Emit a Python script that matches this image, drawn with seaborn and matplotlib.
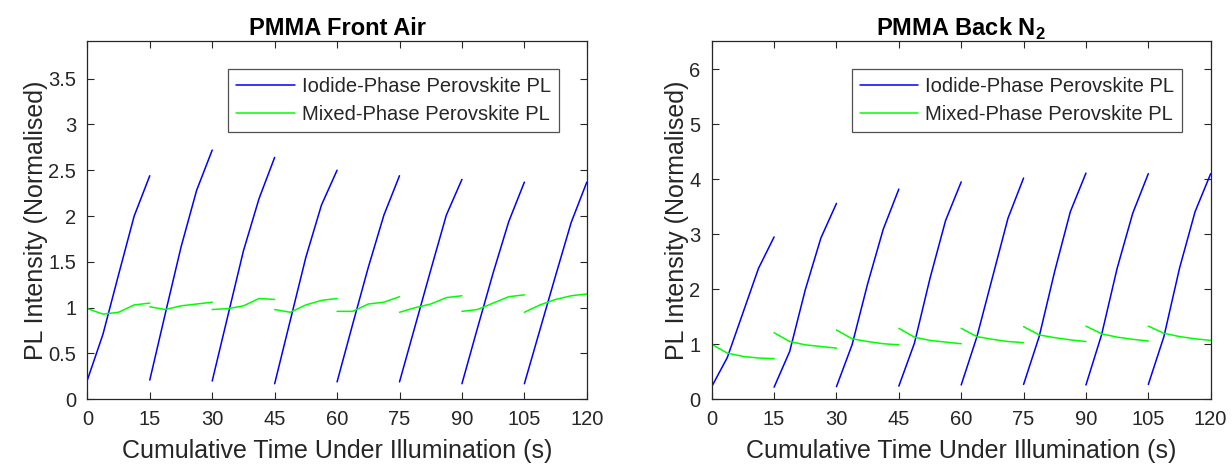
import matplotlib
matplotlib.use("Agg")
import matplotlib.pyplot as plt
import seaborn as sns
import pandas as pd
import numpy as np

# ---------------- data ----------------
segment_starts = [0, 15, 30, 45, 60, 75, 90, 105]
time_offsets = [0, 3.75, 7.5, 11.25, 15]

front_iodide = [
    [0.21, 0.71, 1.36, 2.00, 2.44],
    [0.21, 0.94, 1.66, 2.28, 2.72],
    [0.20, 0.91, 1.62, 2.19, 2.64],
    [0.17, 0.86, 1.55, 2.12, 2.50],
    [0.19, 0.82, 1.44, 2.01, 2.44],
    [0.19, 0.80, 1.41, 2.01, 2.40],
    [0.17, 0.78, 1.38, 1.94, 2.37],
    [0.17, 0.76, 1.35, 1.93, 2.37],
]
front_mixed = [
    [0.99, 0.93, 0.95, 1.03, 1.05],
    [1.01, 0.98, 1.02, 1.04, 1.06],
    [0.98, 0.99, 1.02, 1.10, 1.09],
    [0.98, 0.95, 1.03, 1.08, 1.10],
    [0.96, 0.96, 1.04, 1.06, 1.12],
    [0.95, 1.00, 1.04, 1.11, 1.13],
    [0.96, 0.98, 1.05, 1.12, 1.14],
    [0.95, 1.03, 1.09, 1.13, 1.15],
]
back_iodide = [
    [0.23, 0.76, 1.57, 2.38, 2.95],
    [0.22, 0.87, 1.99, 2.93, 3.56],
    [0.23, 0.99, 2.10, 3.09, 3.82],
    [0.24, 1.02, 2.20, 3.25, 3.95],
    [0.26, 1.13, 2.21, 3.29, 4.02],
    [0.27, 1.14, 2.33, 3.41, 4.11],
    [0.26, 1.17, 2.38, 3.38, 4.10],
    [0.27, 1.14, 2.38, 3.41, 4.10],
]
back_mixed = [
    [1.00, 0.84, 0.78, 0.75, 0.74],
    [1.21, 1.05, 0.99, 0.96, 0.93],
    [1.26, 1.10, 1.05, 1.01, 0.99],
    [1.29, 1.13, 1.07, 1.04, 1.01],
    [1.29, 1.14, 1.09, 1.05, 1.03],
    [1.32, 1.17, 1.12, 1.08, 1.05],
    [1.33, 1.19, 1.13, 1.09, 1.06],
    [1.33, 1.20, 1.14, 1.10, 1.07],
]

series_names = ["Iodide-Phase Perovskite PL", "Mixed-Phase Perovskite PL"]
series_colors = ["#0000ff", "#00ff00"]
titles = ["PMMA Front Air", r"PMMA Back N$_{\mathbf{2}}$"]
x_ticks = [0, 15, 30, 45, 60, 75, 90, 105, 120]
front_yticks = [0, 0.5, 1, 1.5, 2, 2.5, 3, 3.5]
back_yticks = [0, 1, 2, 3, 4, 5, 6]
x_label = "Cumulative Time Under Illumination (s)"
y_label = "PL Intensity (Normalised)"


def build_frame(iodide, mixed):
    rows = []
    for name, segs in zip(series_names, [iodide, mixed]):
        for k, (start, vals) in enumerate(zip(segment_starts, segs)):
            for off, v in zip(time_offsets, vals):
                rows.append({"t": start + off, "v": v, "series": name, "seg": k})
    return pd.DataFrame(rows)


sns.set_style("ticks")
plt.rcParams["font.family"] = ["Liberation Sans", "DejaVu Sans"]
plt.rcParams["mathtext.fontset"] = "custom"
plt.rcParams["mathtext.rm"] = "Liberation Sans"
plt.rcParams["mathtext.bf"] = "Liberation Sans:bold"

fig = plt.figure(figsize=(12.32, 4.71), dpi=100)
ax_l = fig.add_axes([0.0709, 0.1522, 0.4054, 0.7607])
ax_r = fig.add_axes([0.5777, 0.1522, 0.4050, 0.7607])

frames = [build_frame(front_iodide, front_mixed), build_frame(back_iodide, back_mixed)]
ylims = [(0, 3.91), (0, 6.51)]
yticks = [front_yticks, back_yticks]

edge = "#262626"
for ax, df, title, ylim, yt in zip([ax_l, ax_r], frames, titles, ylims, yticks):
    sns.lineplot(data=df, x="t", y="v", hue="series", units="seg", estimator=None,
                 palette=dict(zip(series_names, series_colors)), linewidth=1.1,
                 ax=ax, sort=False)
    ax.set_xlim(0, 120)
    ax.set_ylim(*ylim)
    ax.set_xticks(x_ticks)
    ax.set_yticks(yt)
    ax.set_yticklabels([f"{y:g}" for y in yt])
    ax.tick_params(direction="in", length=5, width=0.8, top=True, right=True,
                   labelsize=14.5, colors=edge, labelcolor=edge)
    ax.tick_params(axis="x", pad=8)
    ax.tick_params(axis="y", pad=8)
    for s in ax.spines.values():
        s.set_visible(True)
        s.set_color(edge)
        s.set_linewidth(0.9)
    ax.set_xlabel(x_label, fontsize=18, color=edge, labelpad=7)
    ax.set_ylabel(y_label, fontsize=18, color=edge, labelpad=0)
    ax.set_title(title, fontsize=17, fontweight="bold", color="black", pad=4)
    leg = ax.legend(loc="upper right", fontsize=14.5, frameon=True, fancybox=False,
                    edgecolor=edge, handlelength=2.9, handletextpad=0.35,
                    borderaxespad=1.4, borderpad=0.4, labelspacing=0.45)
    leg.get_frame().set_linewidth(0.9)
    for line in leg.get_lines():
        line.set_linewidth(1.1)

fig.savefig("out.png", dpi=100)
